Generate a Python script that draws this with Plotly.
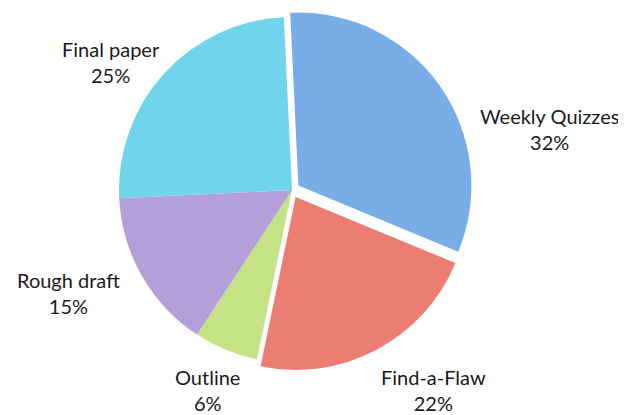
import plotly.graph_objects as go

labels = ["Weekly Quizzes", "Find-a-Flaw", "Outline", "Rough draft", "Final paper"]
values = [32, 22, 6, 15, 25]
colors = ["#78ADE8", "#EC7D73", "#C5E386", "#B59FD8", "#70D5EC"]
pulls = [0.045, 0.045, 0, 0, 0]

# label anchor positions in figure pixels (layout only; page body adds an 8px offset)
label_px = [(541, 121), (425, 382), (199, 382), (60, 285), (103, 54)]

W, H = 626, 415
total = sum(values)

fig = go.Figure(go.Pie(
    labels=labels,
    values=values,
    sort=False,
    direction="clockwise",
    rotation=-2.7,
    pull=pulls,
    marker=dict(colors=colors, line=dict(color="white", width=0)),
    textinfo="none",
    hoverinfo="label+percent",
    domain=dict(x=[0.1649, 0.7425], y=[0.1257, 0.9971]),
    showlegend=False,
))

for lab, val, (px, py) in zip(labels, values, label_px):
    fig.add_annotation(
        x=px / W, y=1 - py / H, xref="paper", yref="paper",
        text=f"{lab}<br>{round(100 * val / total)}%",
        showarrow=False, xanchor="center", yanchor="middle",
        font=dict(family="Lato", size=20, color="#1a1a1a"),
        align="center",
    )

fig.update_layout(
    width=W, height=H,
    margin=dict(l=0, r=0, t=0, b=0),
    paper_bgcolor="white",
    plot_bgcolor="white",
)
fig.write_html("out.html")
